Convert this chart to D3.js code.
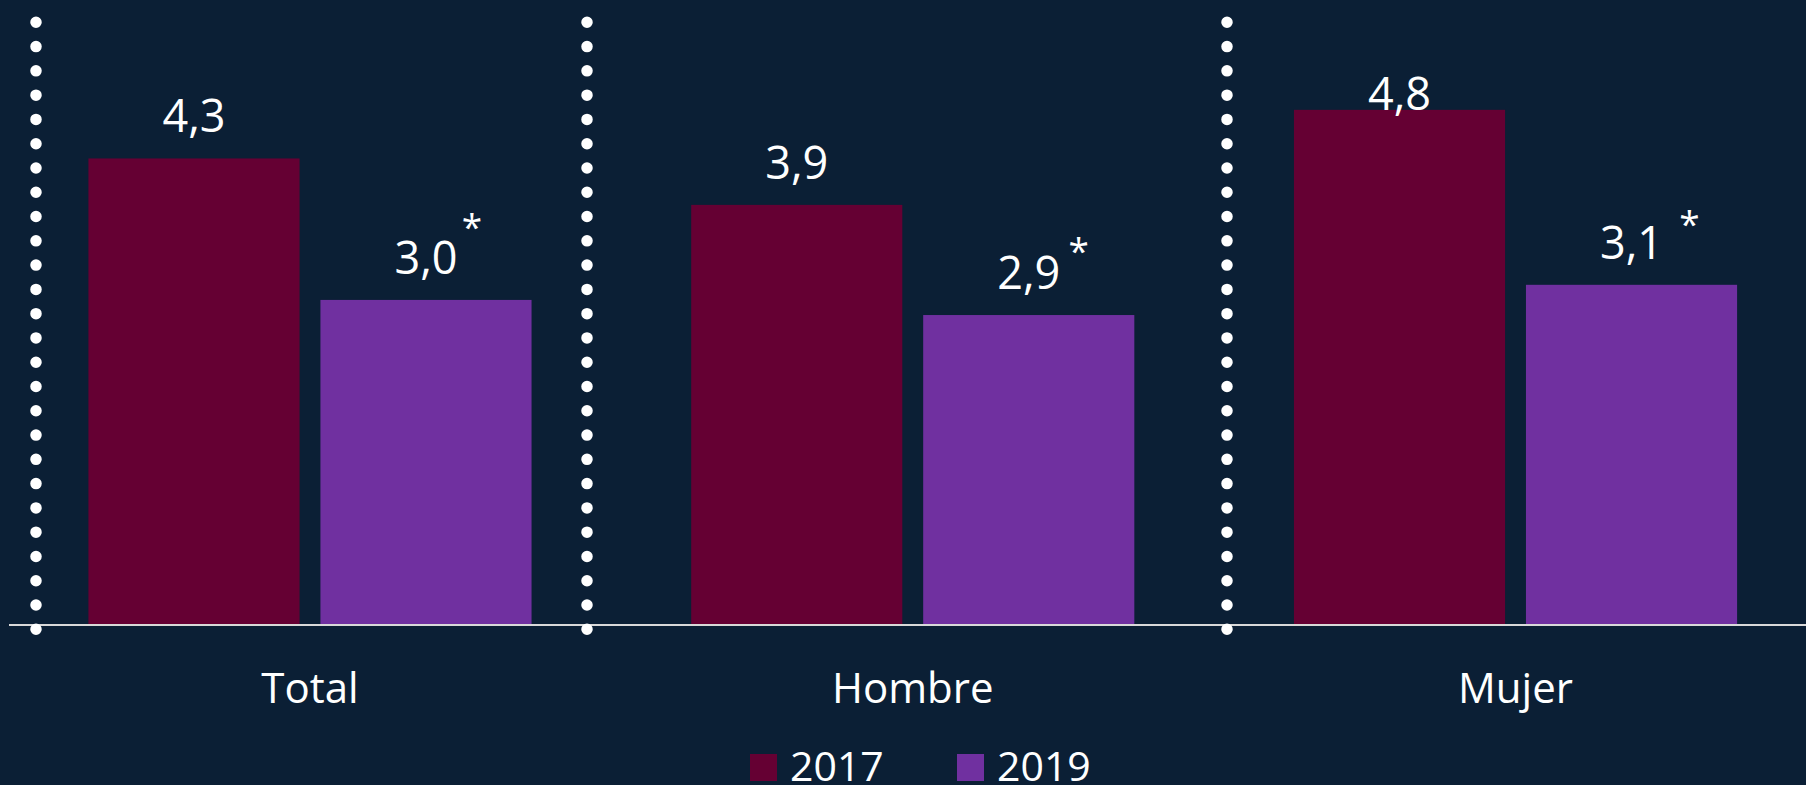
<!DOCTYPE html>
<html>
<head>
<meta charset="utf-8">
<script src="https://cdn.jsdelivr.net/npm/d3@7"></script>
<style>
  html, body { margin: 0; padding: 0; background: #0b1f35; }
  svg { display: block; }
  text { font-family: "Open Sans", "Noto Sans", sans-serif; fill: #fff; }
</style>
</head>
<body>
<div id="bar_div"></div>
<script>
var categories = ['Total', 'Hombre', 'Mujer'];
var years = ['2017', '2019'];
var values2017 = [4.32, 3.89, 4.77];
var values2019 = [3.01, 2.87, 3.15];
var labels2017 = ['4,3', '3,9', '4,8'];
var labels2019 = ['3,0', '2,9', '3,1'];
var notes2019 = ['*', '*', '*'];

// hand placed asterisks and separators (layout only)
var noteNudge = [[46, -47], [50, -38], [58, -35]];
var separatorX = [36, 587, 1227];

var width = 1806, height = 785;
var colors = ['#650033', '#7030a0'];

var data = categories.map(function(c, i) {
  return {cat: c, vals: [values2017[i], values2019[i]], labels: [labels2017[i], labels2019[i]], note: notes2019[i]};
});

var svg = d3.select('#bar_div').append('svg')
  .attr('width', width)
  .attr('height', height);

svg.append('rect')
  .attr('width', width).attr('height', height)
  .attr('fill', '#0b1f35');

var xScale = d3.scaleBand().domain(categories).range([8.6, 1816.9]).padding(0);
var x1 = d3.scaleBand().domain(years).range([0, xScale.bandwidth()])
  .paddingInner(0.09).paddingOuter(0.344);
var yScale = d3.scaleLinear().domain([0, 5]).range([625, 85]);

// bars
var groups = svg.selectAll('g.grp')
  .data(data)
  .enter().append('g')
  .attr('class', 'grp')
  .attr('transform', function(d) { return 'translate(' + xScale(d.cat) + ',0)'; });

groups.selectAll('rect')
  .data(function(d) { return d.vals.map(function(v, j) { return {year: years[j], v: v, label: d.labels[j], j: j}; }); })
  .enter().append('rect')
  .attr('x', function(d) { return x1(d.year); })
  .attr('width', x1.bandwidth())
  .attr('y', function(d) { return yScale(d.v); })
  .attr('height', function(d) { return yScale(0) - yScale(d.v); })
  .style('fill', function(d) { return colors[d.j]; });

// value labels, kept inside the plot top like excel does
function labelY(v) { return Math.max(yScale(v) - 26, 109.5); }

groups.selectAll('text.val')
  .data(function(d) { return d.vals.map(function(v, j) { return {year: years[j], v: v, label: d.labels[j]}; }); })
  .enter().append('text')
  .attr('class', 'val')
  .attr('text-anchor', 'middle')
  .attr('x', function(d) { return x1(d.year) + x1.bandwidth() / 2; })
  .attr('y', function(d) { return labelY(d.v); })
  .style('font-size', '45px')
  .text(function(d) { return d.label; });

groups.append('text')
  .attr('class', 'note')
  .attr('text-anchor', 'middle')
  .attr('x', function(d, i) { return x1('2019') + x1.bandwidth() / 2 + noteNudge[i][0]; })
  .attr('y', function(d, i) { return labelY(d.vals[1]) + noteNudge[i][1] + 13; })
  .style('font-size', '37px')
  .text(function(d) { return d.note; });

// baseline
svg.append('line')
  .attr('x1', 9).attr('x2', width)
  .attr('y1', yScale(0)).attr('y2', yScale(0))
  .style('stroke', '#d9d9d9')
  .style('stroke-width', '1.8px');

// dotted separators
svg.selectAll('line.sep')
  .data(separatorX)
  .enter().append('line')
  .attr('class', 'sep')
  .attr('x1', function(d) { return d; }).attr('x2', function(d) { return d; })
  .attr('y1', 22.3).attr('y2', 630)
  .style('stroke', '#fff')
  .style('stroke-width', '11.5px')
  .style('stroke-linecap', 'round')
  .style('stroke-dasharray', '0 24.28');

// category axis
var xAxis = svg.append('g')
  .attr('class', 'xaxis')
  .attr('transform', 'translate(0,' + yScale(0) + ')')
  .call(d3.axisBottom(xScale).tickSize(0).tickPadding(0));

xAxis.select('path.domain').remove();
xAxis.selectAll('text')
  .attr('dy', null)
  .attr('y', 78)
  .style('fill', '#fff')
  .style('font-size', '42px')
  .style('font-family', '"Open Sans", sans-serif');

// legend
var legendX = [750, 957];
var legend = svg.selectAll('g.leg')
  .data(years)
  .enter().append('g')
  .attr('class', 'leg')
  .attr('transform', function(d, i) { return 'translate(' + legendX[i] + ',754)'; });

legend.append('rect')
  .attr('width', 27).attr('height', 27)
  .style('fill', function(d, i) { return colors[i]; });

legend.append('text')
  .attr('x', 40)
  .attr('y', 27)
  .style('font-size', '41px')
  .text(function(d) { return d; });
</script>
</body>
</html>
